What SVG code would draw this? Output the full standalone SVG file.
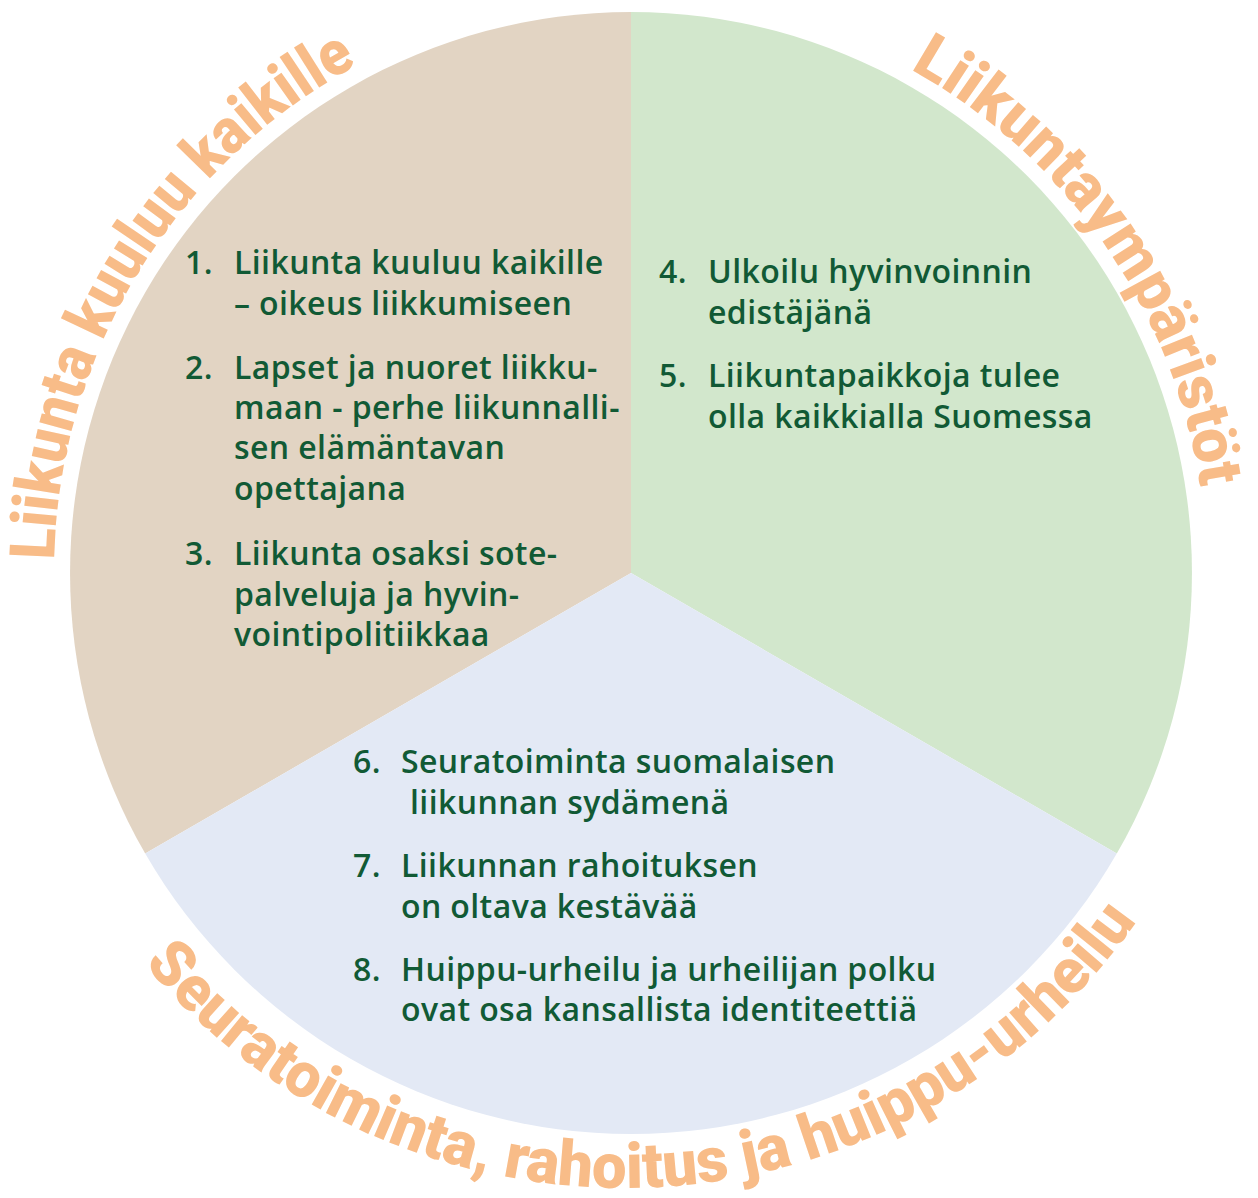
<svg xmlns="http://www.w3.org/2000/svg" width="1258" height="1198" viewBox="0 0 1258 1198">
<style>
.item{font-family:"Open Sans","Liberation Sans",sans-serif;font-size:32px;font-weight:600;fill:#115A35;letter-spacing:0.4px}
.arc{font-family:Roboto,"Liberation Sans",sans-serif;font-size:63px;font-weight:900;fill:#F8BC88}
</style>
<defs>
<path id="pLeft" d="M 54.1 559.9 A 577 577 0 0 1 396.3 45.9"/>
<path id="pRight" d="M 910.3 69.2 A 576 576 0 0 1 1206.2 542.9"/>
<path id="pBottom" d="M 143.7 963.5 A 626 626 0 0 0 1149 902.9"/>
</defs>
<rect width="1258" height="1198" fill="#FFFFFF"/>
<g id="sector-liikunta-kaikille">
<path d="M 631 573 L 145.2 853.5 A 561 561 0 0 1 631 12 Z" fill="#E2D4C3"/>
<text class="item" x="185" y="274">1.</text>
<text class="item" x="234" y="274">Liikunta kuuluu kaikille</text>
<text class="item" x="234" y="315">– oikeus liikkumiseen</text>
<text class="item" x="185" y="379">2.</text>
<text class="item" x="234" y="379">Lapset ja nuoret liikku-</text>
<text class="item" x="234" y="419">maan - perhe liikunnalli-</text>
<text class="item" x="234" y="459">sen elämäntavan</text>
<text class="item" x="234" y="500">opettajana</text>
<text class="item" x="185" y="565">3.</text>
<text class="item" x="234" y="565">Liikunta osaksi sote-</text>
<text class="item" x="234" y="606">palveluja ja hyvin-</text>
<text class="item" x="234" y="646">vointipolitiikkaa</text>
</g>
<g id="sector-liikuntaymparistot">
<path d="M 631 573 L 631 12 A 561 561 0 0 1 1116.8 853.5 Z" fill="#D2E7CC"/>
<text class="item" x="659" y="283">4.</text>
<text class="item" x="708" y="283">Ulkoilu hyvinvoinnin</text>
<text class="item" x="708" y="324">edistäjänä</text>
<text class="item" x="659" y="387">5.</text>
<text class="item" x="708" y="387">Liikuntapaikkoja tulee</text>
<text class="item" x="708" y="428">olla kaikkialla Suomessa</text>
</g>
<g id="sector-seuratoiminta">
<path d="M 631 573 L 1116.8 853.5 A 561 561 0 0 1 145.2 853.5 Z" fill="#E3E9F5"/>
<text class="item" x="353" y="773">6.</text>
<text class="item" x="401" y="773">Seuratoiminta suomalaisen</text>
<text class="item" x="410" y="814">liikunnan sydämenä</text>
<text class="item" x="353" y="877">7.</text>
<text class="item" x="401" y="877">Liikunnan rahoituksen</text>
<text class="item" x="401" y="918">on oltava kestävää</text>
<text class="item" x="353" y="981">8.</text>
<text class="item" x="401" y="981">Huippu-urheilu ja urheilijan polku</text>
<text class="item" x="401" y="1021">ovat osa kansallista identiteettiä</text>
</g>
<g id="title-left">
<text class="arc"><textPath href="#pLeft" textLength="608" lengthAdjust="spacingAndGlyphs">Liikunta kuuluu kaikille</textPath></text>
</g>
<g id="title-right">
<text class="arc"><textPath href="#pRight" textLength="527" lengthAdjust="spacingAndGlyphs">Liikuntaympäristöt</textPath></text>
</g>
<g id="title-bottom">
<text class="arc"><textPath href="#pBottom" textLength="1148" lengthAdjust="spacingAndGlyphs">Seuratoiminta, rahoitus ja huippu-urheilu</textPath></text>
</g>
<g id="connectors"></g>
</svg>
